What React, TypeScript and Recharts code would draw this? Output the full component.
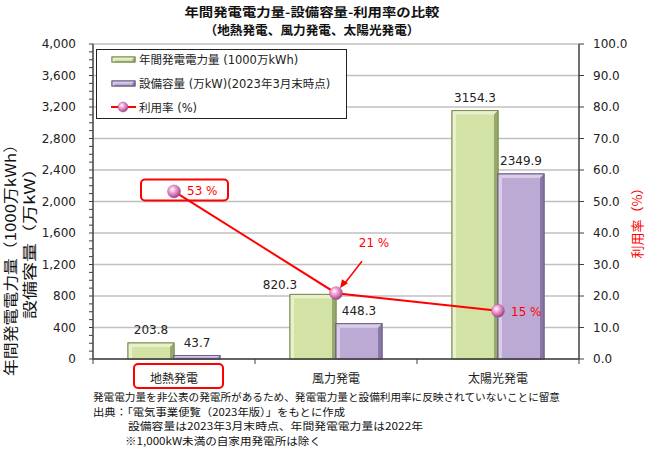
import { ComposedChart, Bar, Line, XAxis, YAxis, CartesianGrid, LabelList, Legend } from 'recharts';

const categories = ['地熱発電', '風力発電', '太陽光発電'];
const generation = [203.8, 820.3, 3154.3];
const capacity = [43.7, 448.3, 2349.9];
const utilization = [53.2, 20.9, 15.3];
const utilizationLabels = ['53 %', '21 %', '15 %'];

const leftTicks = [0, 400, 800, 1200, 1600, 2000, 2400, 2800, 3200, 3600, 4000];
const leftMinorTicks = Array.from({ length: 41 }, (_, i) => i * 100);
const rightTicks = [0, 10, 20, 30, 40, 50, 60, 70, 80, 90, 100];

const legendNames = ['年間発電電力量 (1000万kWh)', '設備容量 (万kW)(2023年3月末時点)', '利用率 (%)'];
const titleLines = ['年間発電電力量-設備容量-利用率の比較', '（地熱発電、風力発電、太陽光発電）'];
const leftAxisLines = ['年間発電電力量（1000万kWh）', '設備容量（万kW）'];
const rightAxisTitle = '利用率（%）';
const notes = [
  '発電電力量を非公表の発電所があるため、発電電力量と設備利用率に反映されていないことに留意',
  '出典：「電気事業便覧（2023年版）」をもとに作成',
  '設備容量は2023年3月末時点、年間発電電力量は2022年',
  '※1,000kW未満の自家用発電所は除く',
];

const data = categories.map((name, i) => ({
  name,
  generation: generation[i],
  capacity: capacity[i],
  utilization: utilization[i],
}));

const NUM_FONT = "'DejaVu Sans', 'Noto Sans CJK JP', sans-serif";
const JP_FONT = "'Noto Sans CJK JP', sans-serif";

const green = { main: '#d3e2a5', light: '#e8f1cc', dark: '#97a96a', edge: '#7d8e50' };
const purple = { main: '#bcaad4', light: '#d9cde8', dark: '#8878a5', edge: '#6c5d88' };

function BevelBar(props: any) {
  const { x, y, width, height, colors } = props;
  if (!height || height <= 0) return null;
  const b = Math.min(4, height / 2, width / 2);
  return (
    <g>
      <rect x={x} y={y} width={width} height={height} fill={colors.main} stroke={colors.edge} strokeWidth={1} />
      <polygon points={`${x},${y} ${x + width},${y} ${x + width - b},${y + b} ${x + b},${y + b}`} fill={colors.light} />
      <polygon points={`${x},${y} ${x + b},${y + b} ${x + b},${y + height} ${x},${y + height}`} fill={colors.light} />
      <polygon
        points={`${x + width},${y} ${x + width},${y + height} ${x + width - b},${y + height} ${x + width - b},${y + b}`}
        fill={colors.dark}
      />
      <rect x={x} y={y} width={width} height={height} fill="none" stroke={colors.edge} strokeWidth={1} />
    </g>
  );
}

function Ball({ cx, cy, size = 6.5 }: any) {
  if (cx == null || cy == null) return null;
  return <circle cx={cx} cy={cy} r={size} fill="url(#ballGrad)" stroke="#b0609a" strokeWidth={0.5} />;
}

function LeftTick({ x, y, payload }: any) {
  const v = payload.value;
  const major = v % 400 === 0;
  return (
    <g>
      <line x1={x - 4} x2={x} y1={y} y2={y} stroke="#404040" strokeWidth={1} />
      {major && (
        <text x={x - 17} y={y + 4} textAnchor="end" fontSize={12} fontFamily={NUM_FONT} fill="#222">
          {v.toLocaleString('en-US')}
        </text>
      )}
    </g>
  );
}

function RightTick({ x, y, payload }: any) {
  return (
    <g>
      <line x1={x} x2={x + 5} y1={y} y2={y} stroke="#404040" strokeWidth={1} />
      <text x={x + 14} y={y + 4} fontSize={12} fontFamily={NUM_FONT} fill="#222">
        {payload.value.toFixed(1)}
      </text>
    </g>
  );
}

function CategoryTick({ x, y, payload, index, width }: any) {
  const half = (width || 486) / categories.length / 2;
  return (
    <g>
      <line x1={x - half} x2={x - half} y1={y} y2={y + 5} stroke="#404040" strokeWidth={1} />
      {index === categories.length - 1 && (
        <line x1={x + half} x2={x + half} y1={y} y2={y + 5} stroke="#404040" strokeWidth={1} />
      )}
      {index === 0 && (
        <rect x={x - 40} y={y + 5} width={89} height={24} rx={4} fill="none" stroke="#ff0000" strokeWidth={2} />
      )}
      <text x={x} y={y + 24} textAnchor="middle" fontSize={12} fontFamily={JP_FONT} fill="#222">
        {payload.value}
      </text>
    </g>
  );
}

// value label above a bar; the wind generation label sits left of its bar to clear the line
function BarValueLabel({ x, y, width, value, index, shiftWind }: any) {
  const moved = shiftWind && index === 1;
  const cx = x + width / 2 + (moved ? -33 : 0);
  const by = y - (moved ? 5 : 9);
  return (
    <text x={cx} y={by} textAnchor="middle" fontSize={12} fontFamily={NUM_FONT} fill="#222">
      {value}
    </text>
  );
}

function RateLabel({ x, y, index }: any) {
  const text = utilizationLabels[index];
  const style = { fontSize: 12, fontFamily: NUM_FONT, fill: '#ff0000' };
  if (index === 0) {
    return (
      <g>
        <rect x={x - 33} y={y - 12} width={87} height={21} rx={4} fill="none" stroke="#ff0000" strokeWidth={2} />
        <text x={x + 13} y={y + 4} {...style}>{text}</text>
      </g>
    );
  }
  if (index === 1) {
    return (
      <g>
        <text x={x + 38} y={y - 46} textAnchor="middle" {...style}>{text}</text>
        <line x1={x + 26} y1={y - 32} x2={x + 8} y2={y - 9} stroke="#ff0000" strokeWidth={1.5} />
        <polygon points={`${x + 4},${y - 5} ${x + 6},${y - 14} ${x + 12},${y - 10}`} fill="#ff0000" />
      </g>
    );
  }
  return <text x={x + 13} y={y + 5} {...style}>{text}</text>;
}

function LegendBox() {
  return (
    <svg width={251} height={70} style={{ display: 'block' }}>
      <rect x={0.5} y={0.5} width={250} height={69} fill="#fff" stroke="#222" strokeWidth={1} />
      <BevelBar x={16} y={8} width={23} height={5} colors={green} />
      <BevelBar x={16} y={32} width={23} height={5} colors={purple} />
      <line x1={15} x2={40} y1={58} y2={58} stroke="#ff0000" strokeWidth={2} />
      <Ball cx={27} cy={58} size={5} />
      {legendNames.map((n, i) => (
        <text key={n} x={43} y={15 + i * 24} fontSize={11.5} fontFamily={NUM_FONT} fill="#222">
          {n}
        </text>
      ))}
    </svg>
  );
}

export default function App() {
  return (
    <div style={{ position: 'absolute', left: 0, top: 0, width: 645, height: 455, background: '#fff' }}>
      <ComposedChart
        width={645}
        height={455}
        data={data}
        margin={{ top: 44, right: 16, bottom: 76, left: 0 }}
        barGap={0}
      >
        <defs>
          <radialGradient id="ballGrad" cx="38%" cy="35%" r="65%">
            <stop offset="0%" stopColor="#ffffff" />
            <stop offset="30%" stopColor="#f4b4de" />
            <stop offset="75%" stopColor="#cc6aac" />
            <stop offset="100%" stopColor="#93407a" />
          </radialGradient>
        </defs>
        <CartesianGrid
          yAxisId="left"
          vertical={false}
          horizontalValues={leftTicks}
          stroke="#c0c0c0"
          strokeWidth={1.3}
        />
        <XAxis
          dataKey="name"
          height={20}
          tickSize={0}
          tickMargin={0}
          tickLine={false}
          axisLine={{ stroke: '#404040', strokeWidth: 1.5 }}
          tick={<CategoryTick />}
          interval={0}
        />
        <YAxis
          yAxisId="left"
          width={93}
          domain={[0, 4000]}
          ticks={leftMinorTicks}
          interval={0}
          tickSize={0}
          tickMargin={0}
          tickLine={false}
          axisLine={{ stroke: '#404040', strokeWidth: 1.5 }}
          tick={<LeftTick />}
        />
        <YAxis
          yAxisId="right"
          orientation="right"
          width={50}
          domain={[0, 100]}
          ticks={rightTicks}
          interval={0}
          tickSize={0}
          tickMargin={0}
          tickLine={false}
          axisLine={{ stroke: '#404040', strokeWidth: 1.5 }}
          tick={<RightTick />}
        />
        <Legend
          layout="vertical"
          align="center"
          verticalAlign="middle"
          content={() => <LegendBox />}
          wrapperStyle={{ position: 'absolute', left: 96, top: 49, width: 251, height: 70 }}
        />
        <Bar
          yAxisId="left"
          dataKey="generation"
          barSize={46}
          isAnimationActive={false}
          shape={(p: any) => <BevelBar {...p} colors={green} />}
        >
          <LabelList dataKey="generation" content={<BarValueLabel shiftWind />} />
        </Bar>
        <Bar
          yAxisId="left"
          dataKey="capacity"
          barSize={46}
          isAnimationActive={false}
          shape={(p: any) => <BevelBar {...p} colors={purple} />}
        >
          <LabelList dataKey="capacity" content={<BarValueLabel />} />
        </Bar>
        <Line
          yAxisId="right"
          dataKey="utilization"
          type="linear"
          stroke="#ff0000"
          strokeWidth={2}
          dot={<Ball />}
          activeDot={false}
          isAnimationActive={false}
        >
          <LabelList dataKey="utilization" content={<RateLabel />} />
        </Line>
      </ComposedChart>
      <svg
        width={645}
        height={455}
        style={{ position: 'absolute', left: 0, top: 0, pointerEvents: 'none' }}
      >
        <text x={312} y={17} textAnchor="middle" fontSize={12.5} fontWeight={700} fontFamily={JP_FONT} fill="#111" textLength={255} lengthAdjust="spacingAndGlyphs">
          {titleLines[0]}
        </text>
        <text x={312} y={35} textAnchor="middle" fontSize={12.5} fontWeight={700} fontFamily={JP_FONT} fill="#111" textLength={215} lengthAdjust="spacingAndGlyphs">
          {titleLines[1]}
        </text>
        <text transform="translate(16,256) rotate(-90)" textAnchor="middle" fontSize={14.5} fontFamily={JP_FONT} fill="#111" textLength={240} lengthAdjust="spacingAndGlyphs">
          {leftAxisLines[0]}
        </text>
        <text transform="translate(35,239) rotate(-90)" textAnchor="middle" fontSize={14.5} fontFamily={JP_FONT} fill="#111" textLength={160} lengthAdjust="spacingAndGlyphs">
          {leftAxisLines[1]}
        </text>
        <text transform="translate(642,220) rotate(-90)" textAnchor="middle" fontSize={13} fontFamily={JP_FONT} fill="#ff0000">
          {rightAxisTitle}
        </text>
        <text x={93} y={401} fontSize={10.5} fontFamily={JP_FONT} fill="#111" textLength={467} lengthAdjust="spacingAndGlyphs">{notes[0]}</text>
        <text x={93} y={416} fontSize={10.5} fontFamily={JP_FONT} fill="#111" textLength={252} lengthAdjust="spacingAndGlyphs">{notes[1]}</text>
        <text x={128} y={430} fontSize={10.5} fontFamily={JP_FONT} fill="#111" textLength={295} lengthAdjust="spacingAndGlyphs">{notes[2]}</text>
        <text x={125} y={445} fontSize={10.5} fontFamily={JP_FONT} fill="#111" textLength={196} lengthAdjust="spacingAndGlyphs">{notes[3]}</text>
      </svg>
    </div>
  );
}
